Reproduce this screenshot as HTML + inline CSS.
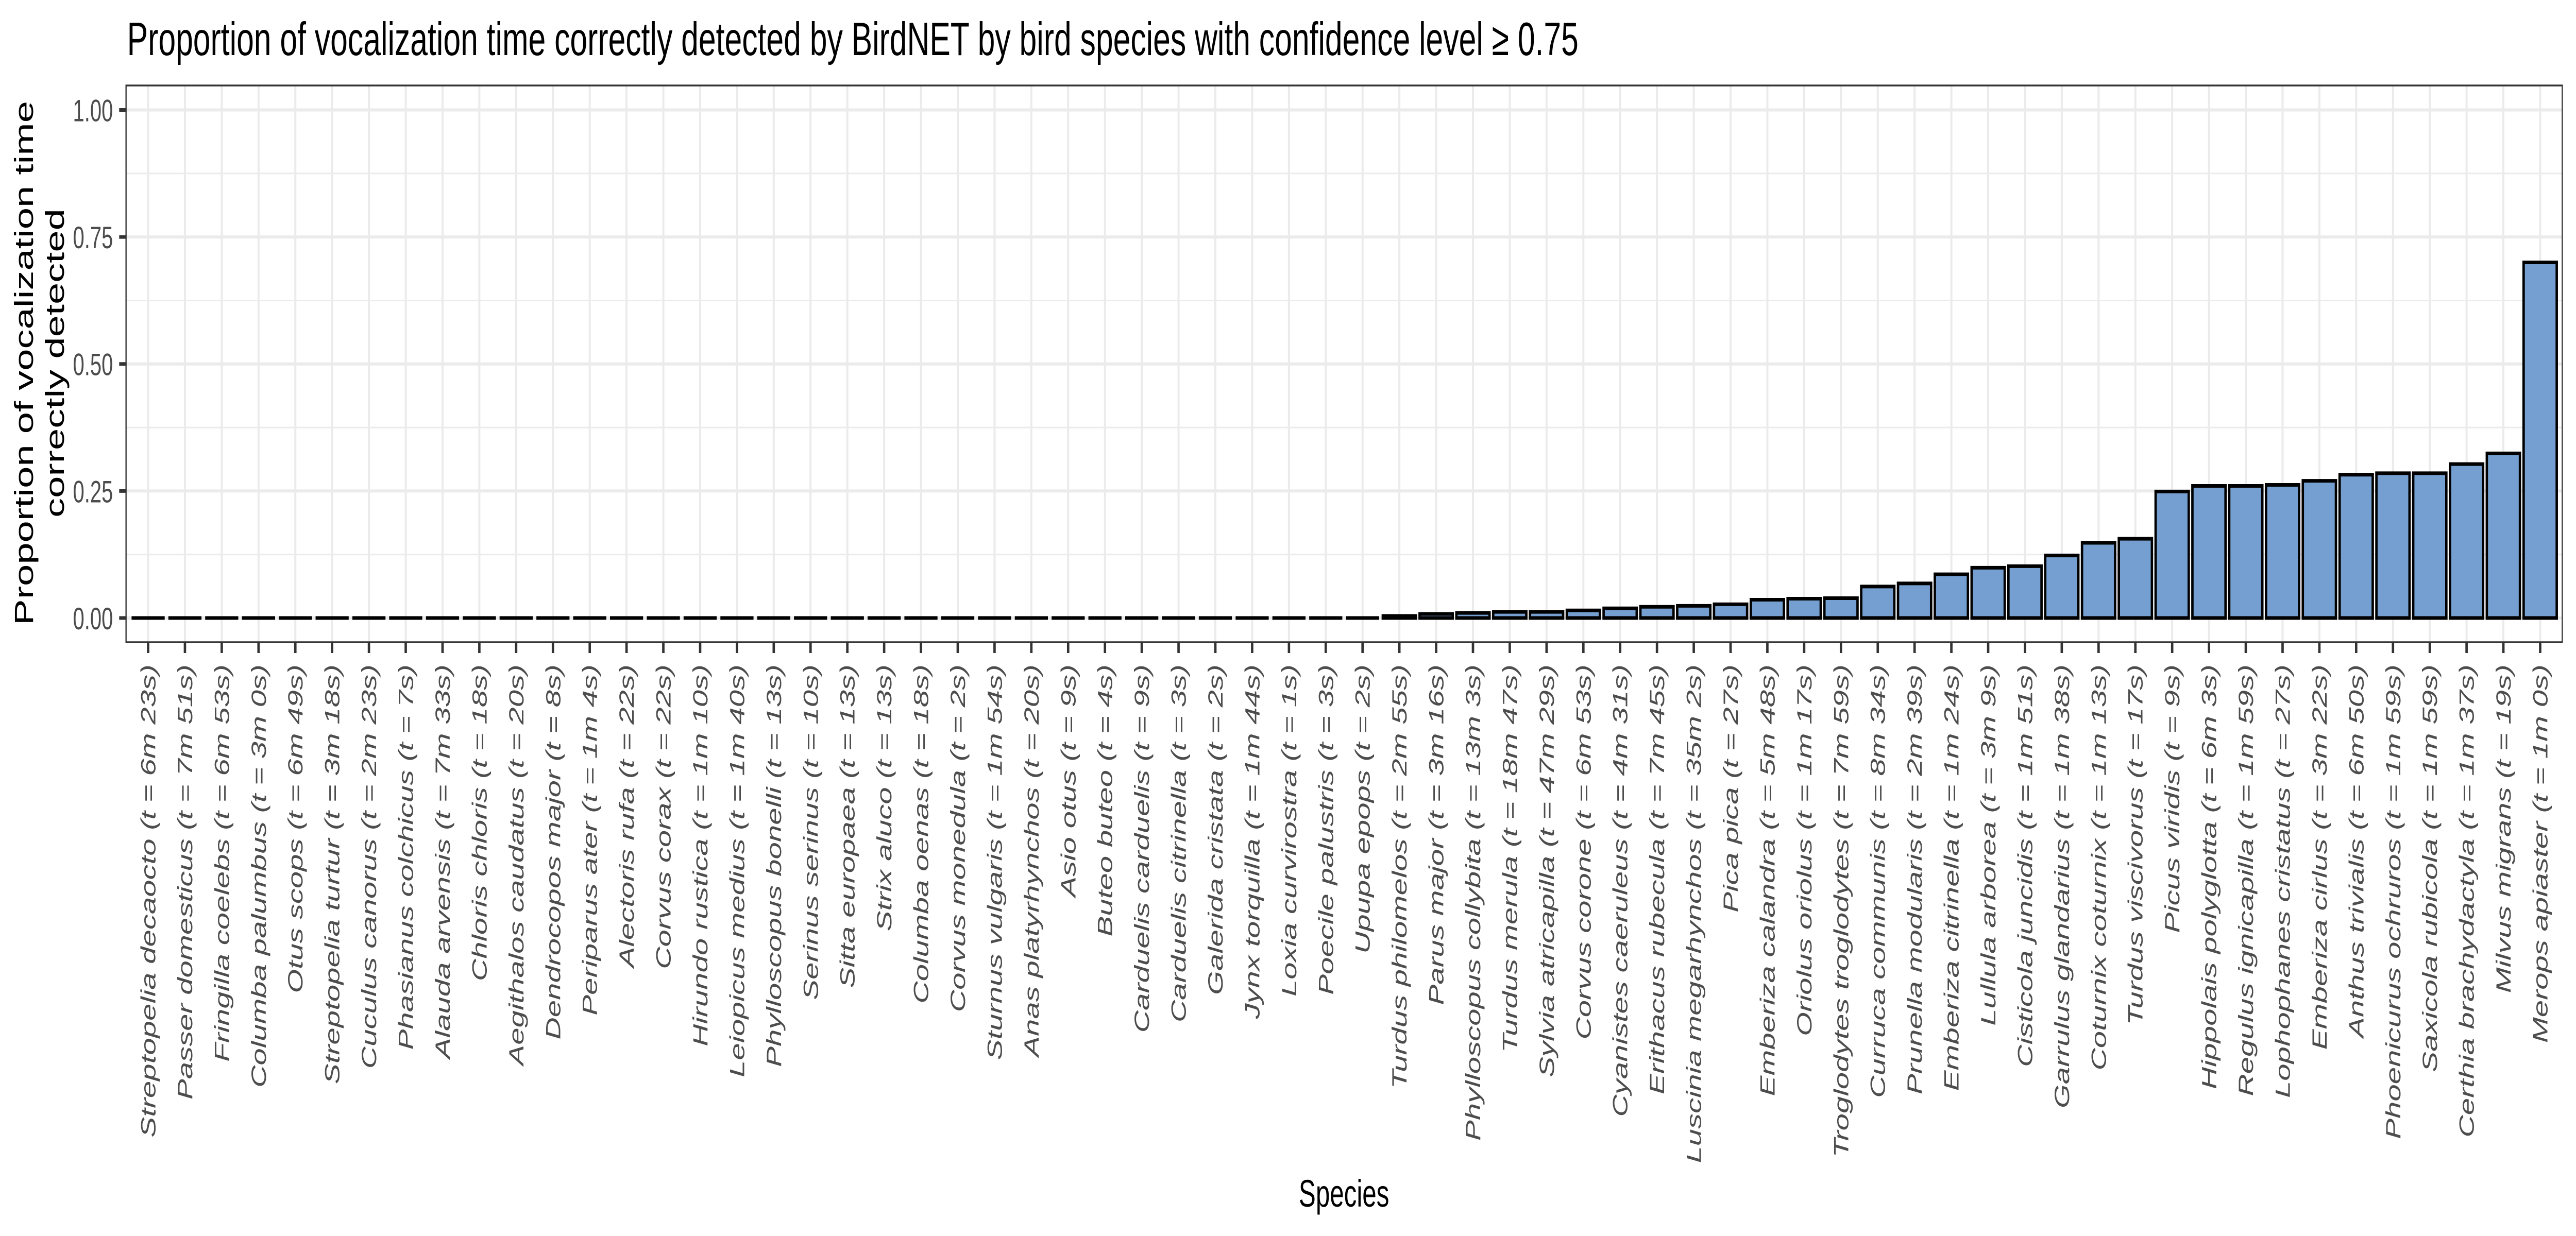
<!DOCTYPE html>
<html><head><meta charset="utf-8"><style>
html,body{margin:0;padding:0;background:#fff;width:100%;height:100%;overflow:hidden;}
svg{display:block;font-family:"Liberation Sans",Arial,sans-serif;width:100vw;height:100vh;}
</style></head><body>
<svg id="chart" viewBox="0 0 7500 2400" preserveAspectRatio="none" xmlns="http://www.w3.org/2000/svg">
<rect x="0" y="0" width="7500" height="2400" fill="#fff"/>
<text x="370" y="107" font-size="91" fill="#000">Proportion of vocalization time correctly detected by BirdNET by bird species with confidence level ≥ 0.75</text>
<g id="grid"></g>
<g id="bars"></g>
<rect x="367" y="166" width="7093" height="1081" fill="none" stroke="#333" stroke-width="3.5"/>
<g id="axes"></g>
<text transform="translate(96,705) rotate(-90)" text-anchor="middle" font-size="76" fill="#000">Proportion of vocalization time</text>
<text transform="translate(186,705) rotate(-90)" text-anchor="middle" font-size="76" fill="#000">correctly detected</text>
<text x="3913" y="2343" text-anchor="middle" font-size="74" fill="#000">Species</text>
</svg>
<script>
const species = ["Streptopelia decaocto (t = 6m 23s)","Passer domesticus (t = 7m 51s)","Fringilla coelebs (t = 6m 53s)","Columba palumbus (t = 3m 0s)","Otus scops (t = 6m 49s)","Streptopelia turtur (t = 3m 18s)","Cuculus canorus (t = 2m 23s)","Phasianus colchicus (t = 7s)","Alauda arvensis (t = 7m 33s)","Chloris chloris (t = 18s)","Aegithalos caudatus (t = 20s)","Dendrocopos major (t = 8s)","Periparus ater (t = 1m 4s)","Alectoris rufa (t = 22s)","Corvus corax (t = 22s)","Hirundo rustica (t = 1m 10s)","Leiopicus medius (t = 1m 40s)","Phylloscopus bonelli (t = 13s)","Serinus serinus (t = 10s)","Sitta europaea (t = 13s)","Strix aluco (t = 13s)","Columba oenas (t = 18s)","Corvus monedula (t = 2s)","Sturnus vulgaris (t = 1m 54s)","Anas platyrhynchos (t = 20s)","Asio otus (t = 9s)","Buteo buteo (t = 4s)","Carduelis carduelis (t = 9s)","Carduelis citrinella (t = 3s)","Galerida cristata (t = 2s)","Jynx torquilla (t = 1m 44s)","Loxia curvirostra (t = 1s)","Poecile palustris (t = 3s)","Upupa epops (t = 2s)","Turdus philomelos (t = 2m 55s)","Parus major (t = 3m 16s)","Phylloscopus collybita (t = 13m 3s)","Turdus merula (t = 18m 47s)","Sylvia atricapilla (t = 47m 29s)","Corvus corone (t = 6m 53s)","Cyanistes caeruleus (t = 4m 31s)","Erithacus rubecula (t = 7m 45s)","Luscinia megarhynchos (t = 35m 2s)","Pica pica (t = 27s)","Emberiza calandra (t = 5m 48s)","Oriolus oriolus (t = 1m 17s)","Troglodytes troglodytes (t = 7m 59s)","Curruca communis (t = 8m 34s)","Prunella modularis (t = 2m 39s)","Emberiza citrinella (t = 1m 24s)","Lullula arborea (t = 3m 9s)","Cisticola juncidis (t = 1m 51s)","Garrulus glandarius (t = 1m 38s)","Coturnix coturnix (t = 1m 13s)","Turdus viscivorus (t = 17s)","Picus viridis (t = 9s)","Hippolais polyglotta (t = 6m 3s)","Regulus ignicapilla (t = 1m 59s)","Lophophanes cristatus (t = 27s)","Emberiza cirlus (t = 3m 22s)","Anthus trivialis (t = 6m 50s)","Phoenicurus ochruros (t = 1m 59s)","Saxicola rubicola (t = 1m 59s)","Certhia brachydactyla (t = 1m 37s)","Milvus migrans (t = 19s)","Merops apiaster (t = 1m 0s)"];
const proportions = [0,0,0,0,0,0,0,0,0,0,0,0,0,0,0,0,0,0,0,0,0,0,0,0,0,0,0,0,0,0,0,0,0,0,0.004,0.008,0.010,0.012,0.012,0.015,0.019,0.022,0.024,0.027,0.036,0.038,0.039,0.062,0.068,0.086,0.099,0.102,0.123,0.148,0.156,0.249,0.260,0.260,0.262,0.270,0.282,0.285,0.285,0.303,0.324,0.700];
const yTicks = [0, 0.25, 0.5, 0.75, 1.0];
const yTickLabels = ["0.00","0.25","0.50","0.75","1.00"];
const yMinor = [0.125, 0.375, 0.625, 0.875];

const NS = "http://www.w3.org/2000/svg";
const PL = 367, PR = 7460;
const n = species.length;
const step = (PR - PL) / (n - 1 + 1.2);
function xPos(i){ return PL + step * (0.6 + i); }
function yPos(v){ return 1200 - v * 986.5; }
function mk(tag, attrs, parent){ const e = document.createElementNS(NS, tag); for (const k in attrs) e.setAttribute(k, attrs[k]); parent.appendChild(e); return e; }
const grid = document.getElementById('grid'), bars = document.getElementById('bars'), axes = document.getElementById('axes');

yMinor.forEach(v => {
  const l = mk('line', {x1:PL, x2:PR, y1:yPos(v), y2:yPos(v), stroke:'#EBEBEB', 'stroke-width':3}, grid);
  
  
});
yTicks.forEach((v, k) => {
  const l = mk('line', {x1:PL, x2:PR, y1:yPos(v), y2:yPos(v), stroke:'#EBEBEB', 'stroke-width':6}, grid);
  
  
  const t = mk('line', {x1:PL-20, x2:PL, y1:yPos(v), y2:yPos(v), stroke:'#333', 'stroke-width':7}, axes);
  
  
  const tx = mk('text', {x:PL-38, y:yPos(v)+22, 'text-anchor':'end', 'font-size':60, fill:'#4D4D4D'}, axes);
  tx.textContent = yTickLabels[k];
  
  
});
species.forEach((s, i) => {
  const x = xPos(i);
  const g = mk('line', {x1:x, x2:x, y1:166, y2:1247, stroke:'#EBEBEB', 'stroke-width':6}, grid);
  
  
  const w = step * 0.9;
  const top = yPos(proportions[i]);
  const x0 = x - w/2, x1 = x + w/2;
  const r = mk('path', {d:`M${x0},1200 L${x0},${top} L${x1},${top} L${x1},1200 Z`, fill:'#749FD0', stroke:'#000', 'stroke-width':7, 'stroke-linejoin':'miter'}, bars);
  
  
  const t = mk('line', {x1:x, x2:x, y1:1247, y2:1268, stroke:'#333', 'stroke-width':7}, axes);
  
  
  const tx = mk('text', {transform:`translate(${x+21},1290) rotate(-90)`, 'text-anchor':'end', 'font-size':60, 'font-style':'italic', fill:'#4D4D4D'}, axes);
  tx.textContent = s;
  
  
});
</script>
</body></html>
